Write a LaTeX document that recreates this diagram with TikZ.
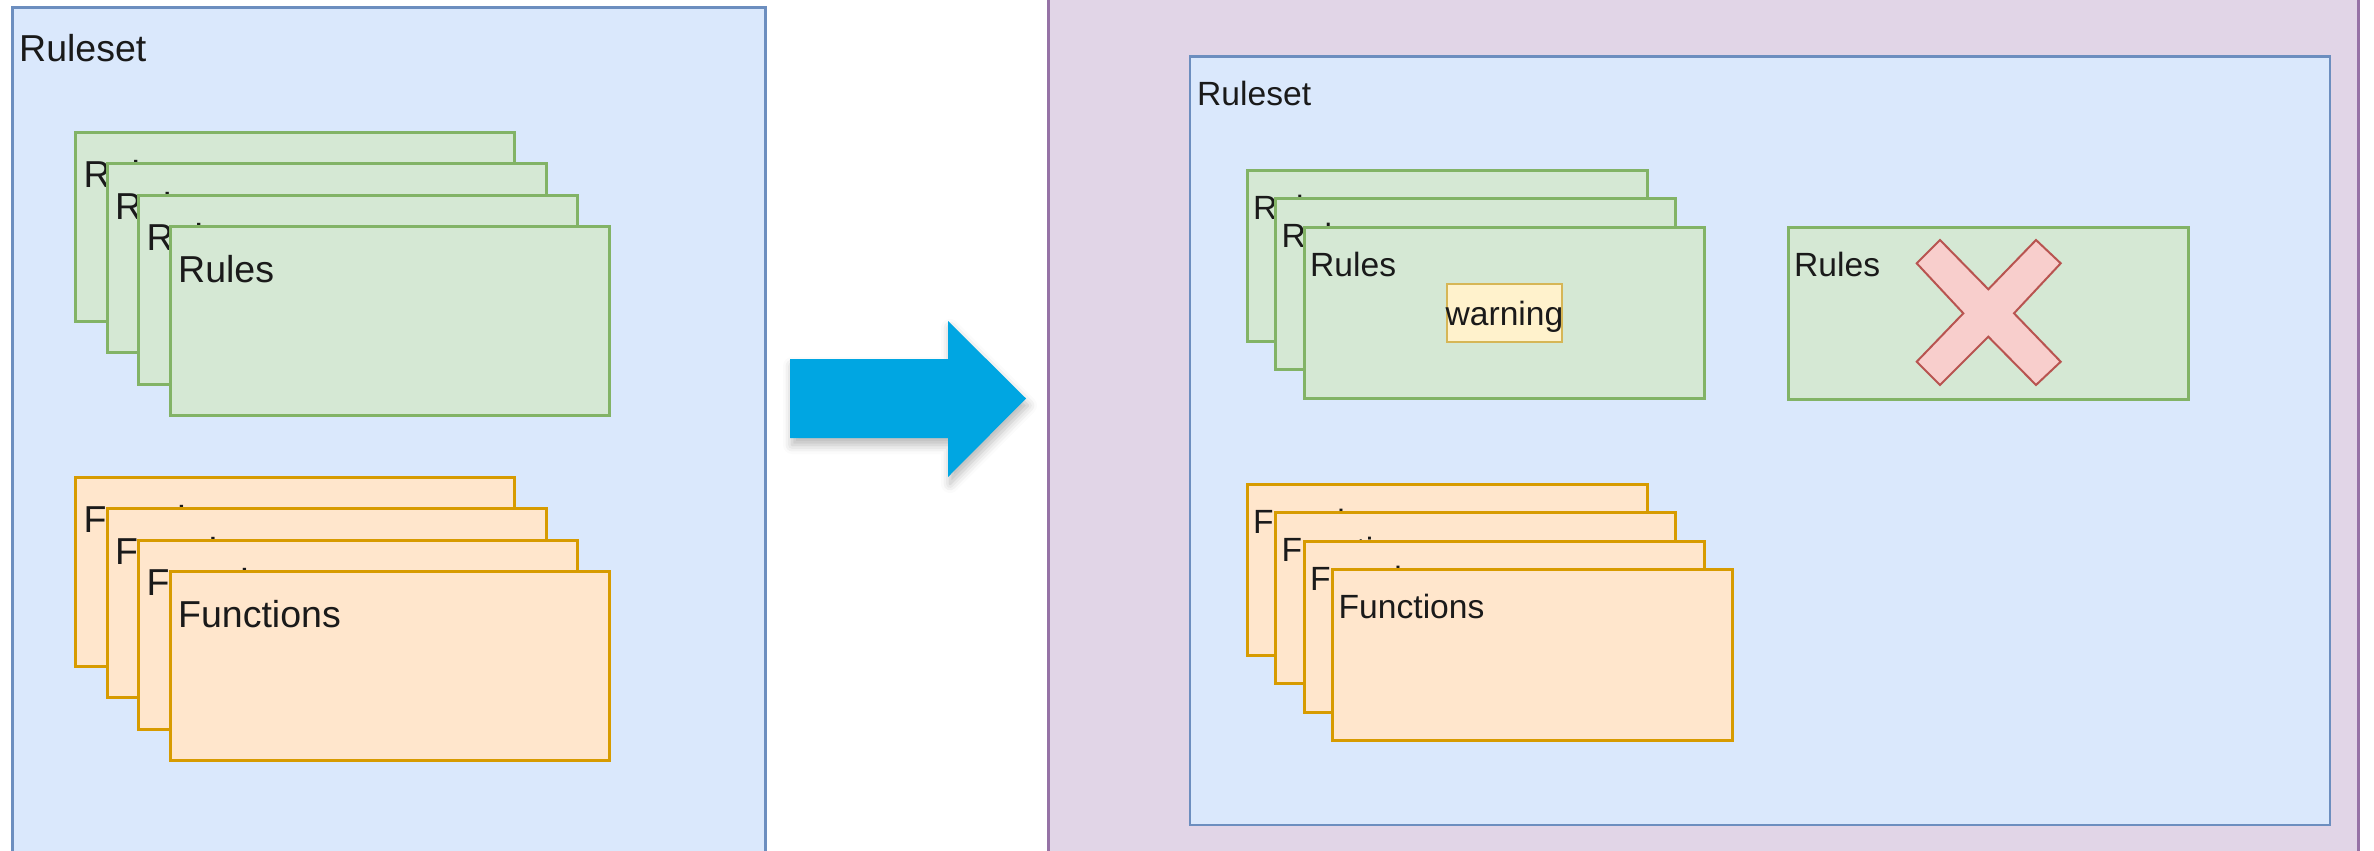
\documentclass[tikz,border=0pt]{standalone}
\usepackage{fontspec}
\setmainfont{Liberation Sans}
\usetikzlibrary{calc,shadows.blur}

\definecolor{setFill}{HTML}{DAE8FC}
\definecolor{setLine}{HTML}{6C8EBF}
\definecolor{ruleFill}{HTML}{D5E8D4}
\definecolor{ruleLine}{HTML}{82B366}
\definecolor{funcFill}{HTML}{FFE6CC}
\definecolor{funcLine}{HTML}{D79B00}
\definecolor{outerFill}{HTML}{E1D5E7}
\definecolor{outerLine}{HTML}{9673A6}
\definecolor{warnFill}{HTML}{FFF2CC}
\definecolor{warnLine}{HTML}{D6B656}
\definecolor{crossFill}{HTML}{F8CECC}
\definecolor{crossLine}{HTML}{B85450}
\definecolor{arrowBlue}{HTML}{00A6E2}
\definecolor{ink}{HTML}{1A1A1A}

\tikzset{
  box/.style={draw, line width=3pt, inner sep=0pt, outer sep=0pt, anchor=north west},
  ruleset/.style={box, draw=setLine, fill=setFill},
  outerset/.style={box, draw=outerLine, fill=outerFill},
  rulecard/.style={box, draw=ruleLine, fill=ruleFill},
  funccard/.style={box, draw=funcLine, fill=funcFill},
  warnbox/.style={draw=warnLine, fill=warnFill, line width=2.5pt, inner sep=0pt,
    outer sep=0pt, minimum width=115pt, minimum height=58pt},
  lblbig/.style={inner sep=0pt, anchor=base west, text=ink,
    font=\fontsize{37.5pt}{40pt}\selectfont},
  lblsmall/.style={inner sep=0pt, anchor=base west, text=ink,
    font=\fontsize{33.6pt}{36pt}\selectfont},
}

% large card (left set): name, style, x, y, label
\newcommand{\bigcard}[5]{%
  \node[#2, minimum width=439pt, minimum height=189pt] (#1) at (#3,#4) {};
  \node[lblbig] (#1-t) at ($(#1.north west)+(8,55.5)$) {#5};
}
% small card (right set): name, style, x, y, height, label
\newcommand{\smallcard}[6]{%
  \node[#2, minimum width=400pt, minimum height=#5pt] (#1) at (#3,#4) {};
  \node[lblsmall] (#1-t) at ($(#1.north west)+(6,49)$) {#6};
}

\begin{document}
\begin{tikzpicture}[x=1pt,y=-1pt]
\useasboundingbox (0,0) rectangle (2374,851);
\clip (0,0) rectangle (2374,851);

% ---------- left: original ruleset ----------
\node[ruleset, minimum width=753pt, minimum height=900pt] (setL) at (12,7.5) {};
\node[lblbig] (setL-t) at ($(setL.north west)+(7,54.5)$) {Ruleset};

\foreach \k in {0,...,3}{
  \bigcard{ruleL\k}{rulecard}{75.5+31.5*\k}{132+31.5*\k}{Rules}
}
\foreach \k in {0,...,3}{
  \bigcard{funcL\k}{funccard}{75.5+31.5*\k}{477+31.5*\k}{Functions}
}

% ---------- transition arrow ----------
\fill[arrowBlue, blur shadow={shadow xshift=2pt, shadow yshift=-7pt,
      shadow blur radius=9pt, shadow opacity=28}]
  (790,359) -- (948,359) -- (948,321) -- (1026,398.5)
  -- (948,477) -- (948,438) -- (790,438) -- cycle;

% ---------- right: checked ruleset ----------
\node[outerset, minimum width=1310pt, minimum height=950pt] (outerR) at (1048.5,-40) {};
\node[ruleset, line width=2.7pt, minimum width=1140pt, minimum height=768.3pt] (setR) at (1190,56.7) {};
\node[lblsmall] (setR-t) at ($(setR.north west)+(7,49)$) {Ruleset};

\foreach \k in {0,...,2}{
  \smallcard{ruleR\k}{rulecard}{1247+28.5*\k}{170+28.5*\k}{171}{Rules}
}
\node[warnbox] (warn) at (1504.5,313) {};
\node[inner sep=0pt, anchor=base, text=ink, font=\fontsize{33.6pt}{36pt}\selectfont]
  (warn-t) at ($(warn.center)+(0,12.5)$) {warning};

\smallcard{ruleX}{rulecard}{1788}{227}{172}{Rules}
\filldraw[fill=crossFill, draw=crossLine, line width=2pt, line join=miter]
  (1940,240) -- (1988.3,289.3) -- (2036,240) -- (2060.7,263.3)
  -- (2014,313.3) -- (2060.7,361.7) -- (2036,385) -- (1988.3,336.7)
  -- (1940,385) -- (1916.7,361.7) -- (1963.3,313.3) -- (1916.7,263.3) -- cycle;

\foreach \k in {0,...,3}{
  \smallcard{funcR\k}{funccard}{1247+28.5*\k}{484+28.5*\k}{171}{Functions}
}
\end{tikzpicture}
\end{document}
